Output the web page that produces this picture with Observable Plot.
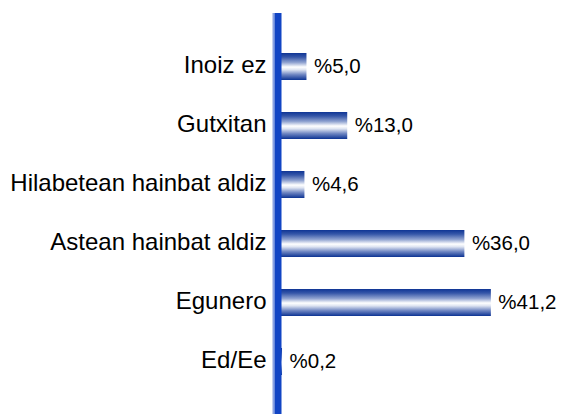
<!DOCTYPE html>
<html>
<head>
<meta charset="utf-8">
<script src="https://cdn.jsdelivr.net/npm/d3@7"></script>
<script src="https://cdn.jsdelivr.net/npm/@observablehq/plot@0.6"></script>
<style>
  html, body { margin: 0; padding: 0; background: #fff; }
  #chart svg { display: block; }
</style>
</head>
<body>
<div id="chart"></div>
<script>
const categories = ["Inoiz ez", "Gutxitan", "Hilabetean hainbat aldiz", "Astean hainbat aldiz", "Egunero", "Ed/Ee"];
const values = [5.0, 13.0, 4.6, 36.0, 41.2, 0.2];

const data = categories.map((c, i) => ({c, v: values[i]}));
const fmt = v => "%" + v.toFixed(1).replace(".", ",");

const plot = Plot.plot({
  width: 562,
  height: 414,
  marginLeft: 281,
  marginRight: 10,
  marginTop: 13,
  marginBottom: 0,
  style: {fontFamily: "'Liberation Sans', Arial, sans-serif", color: "#000", background: "#fff"},
  x: {domain: [0, 53.2], axis: null},
  y: {domain: categories, range: [34, 393], paddingInner: 0.55, paddingOuter: 0.275, label: null},
  marks: [
    Plot.barX(data, {x: "v", y: "c", fill: "#1c3f9a"}),
    Plot.text(data, {x: "v", y: "c", text: d => fmt(d.v), dx: 7, dy: -1, textAnchor: "start", fontSize: 20.5, fill: "#000"}),
    Plot.axisY({tickSize: 0, tickPadding: 15, fontSize: 24, dy: -2, label: null, fill: "#000"}),
    Plot.ruleX([0], {stroke: "#8aa2e2", strokeWidth: 2, dx: -8}),
    Plot.ruleX([0], {stroke: "#1144c4", strokeWidth: 7, dx: -3.5})
  ]
});

const ns = "http://www.w3.org/2000/svg";
const defs = document.createElementNS(ns, "defs");
const grad = document.createElementNS(ns, "linearGradient");
grad.setAttribute("id", "barGrad");
grad.setAttribute("x1", "0"); grad.setAttribute("y1", "0");
grad.setAttribute("x2", "0"); grad.setAttribute("y2", "1");
[[0, "#0f3595"], [0.15, "#3556a8"], [0.35, "#8fa2d0"], [0.52, "#ffffff"], [0.62, "#dfe5f2"], [0.8, "#6f86c2"], [1, "#0c3393"]].forEach(([o, c]) => {
  const s = document.createElementNS(ns, "stop");
  s.setAttribute("offset", o);
  s.setAttribute("stop-color", c);
  grad.appendChild(s);
});
defs.appendChild(grad);
plot.insertBefore(defs, plot.firstChild);
plot.querySelectorAll('g[aria-label="bar"] rect').forEach(r => r.setAttribute("fill", "url(#barGrad)"));
const bg = plot.querySelector('g[aria-label="bar"]');
if (bg) bg.setAttribute("fill", "url(#barGrad)");

document.getElementById("chart").appendChild(plot);
</script>
</body>
</html>
